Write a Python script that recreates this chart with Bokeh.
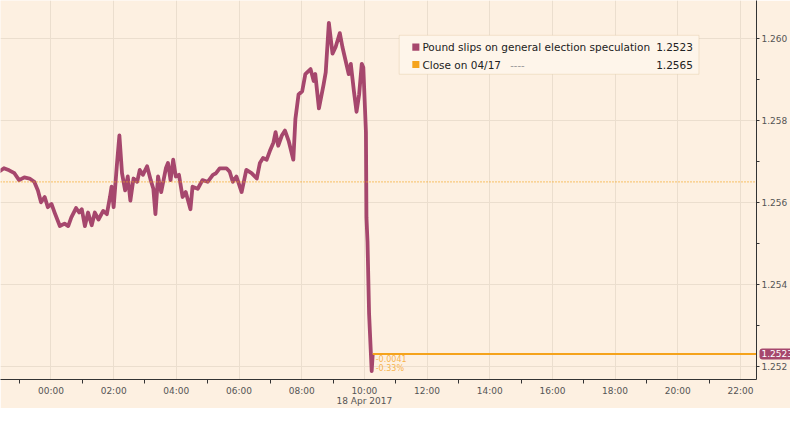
import pandas as pd
from bokeh.plotting import figure
from bokeh.models import (ColumnDataSource, Range1d, FixedTicker, PrintfTickFormatter,
                          Span, BoxAnnotation, Label)
from bokeh.core.properties import value
from bokeh.embed import file_html
from bokeh.resources import INLINE

# ---------------- data ----------------
times = [
    "2017-04-17 22:08", "2017-04-17 22:21", "2017-04-17 22:30", "2017-04-17 22:40",
    "2017-04-17 22:50", "2017-04-17 22:59", "2017-04-17 23:09", "2017-04-17 23:19",
    "2017-04-17 23:28", "2017-04-17 23:35", "2017-04-17 23:41", "2017-04-17 23:48",
    "2017-04-17 23:54", "2017-04-18 00:01", "2017-04-18 00:07", "2017-04-18 00:17",
    "2017-04-18 00:26", "2017-04-18 00:33", "2017-04-18 00:39", "2017-04-18 00:48",
    "2017-04-18 00:54", "2017-04-18 00:59", "2017-04-18 01:05", "2017-04-18 01:11",
    "2017-04-18 01:18", "2017-04-18 01:24", "2017-04-18 01:31", "2017-04-18 01:40",
    "2017-04-18 01:47", "2017-04-18 01:53", "2017-04-18 01:56", "2017-04-18 02:00",
    "2017-04-18 02:06", "2017-04-18 02:11", "2017-04-18 02:16", "2017-04-18 02:22",
    "2017-04-18 02:27", "2017-04-18 02:32", "2017-04-18 02:38", "2017-04-18 02:45",
    "2017-04-18 02:50", "2017-04-18 02:56", "2017-04-18 03:04", "2017-04-18 03:11",
    "2017-04-18 03:16", "2017-04-18 03:20", "2017-04-18 03:25", "2017-04-18 03:31",
    "2017-04-18 03:40", "2017-04-18 03:44", "2017-04-18 03:49", "2017-04-18 03:54",
    "2017-04-18 03:59", "2017-04-18 04:05", "2017-04-18 04:12", "2017-04-18 04:18",
    "2017-04-18 04:27", "2017-04-18 04:31", "2017-04-18 04:41", "2017-04-18 04:50",
    "2017-04-18 05:00", "2017-04-18 05:10", "2017-04-18 05:16", "2017-04-18 05:23",
    "2017-04-18 05:36", "2017-04-18 05:42", "2017-04-18 05:48", "2017-04-18 05:55",
    "2017-04-18 06:05", "2017-04-18 06:14", "2017-04-18 06:24", "2017-04-18 06:34",
    "2017-04-18 06:40", "2017-04-18 06:46", "2017-04-18 06:53", "2017-04-18 06:59",
    "2017-04-18 07:06", "2017-04-18 07:10", "2017-04-18 07:15", "2017-04-18 07:22",
    "2017-04-18 07:28", "2017-04-18 07:35", "2017-04-18 07:44", "2017-04-18 07:48",
    "2017-04-18 07:54", "2017-04-18 08:01", "2017-04-18 08:07", "2017-04-18 08:17",
    "2017-04-18 08:23", "2017-04-18 08:26", "2017-04-18 08:33", "2017-04-18 08:42",
    "2017-04-18 08:46", "2017-04-18 08:52", "2017-04-18 08:59", "2017-04-18 09:05",
    "2017-04-18 09:13", "2017-04-18 09:18", "2017-04-18 09:24", "2017-04-18 09:30",
    "2017-04-18 09:34", "2017-04-18 09:40", "2017-04-18 09:45", "2017-04-18 09:50",
    "2017-04-18 09:55", "2017-04-18 09:58", "2017-04-18 10:03", "2017-04-18 10:04",
    "2017-04-18 10:06", "2017-04-18 10:09", "2017-04-18 10:14", "2017-04-18 10:16",
]
prices = [
    1.25679, 1.25675, 1.25683, 1.25678,
    1.25671, 1.25654, 1.25661, 1.25658,
    1.25650, 1.25629, 1.25600, 1.25613,
    1.25588, 1.25596, 1.25575, 1.25542,
    1.25548, 1.25542, 1.25563, 1.25586,
    1.25575, 1.25583, 1.25542, 1.25575,
    1.25544, 1.25575, 1.25558, 1.25579,
    1.25571, 1.25613, 1.25638, 1.25588,
    1.25688, 1.25763, 1.25671, 1.25629,
    1.25663, 1.25604, 1.25658, 1.25650,
    1.25679, 1.25667, 1.25688, 1.25654,
    1.25633, 1.25571, 1.25663, 1.25625,
    1.25683, 1.25696, 1.25654, 1.25704,
    1.25663, 1.25667, 1.25613, 1.25625,
    1.25583, 1.25638, 1.25633, 1.25654,
    1.25650, 1.25667, 1.25671, 1.25683,
    1.25683, 1.25675, 1.25650, 1.25663,
    1.25625, 1.25679, 1.25671, 1.25658,
    1.25696, 1.25708, 1.25704, 1.25725,
    1.25746, 1.25771, 1.25738, 1.25763,
    1.25775, 1.25750, 1.25704, 1.25804,
    1.25863, 1.25871, 1.25913, 1.25925,
    1.25896, 1.25913, 1.25829, 1.25888,
    1.25917, 1.26038, 1.25963, 1.25979,
    1.26013, 1.25979, 1.25946, 1.25913,
    1.25938, 1.25871, 1.25821, 1.25863,
    1.25938, 1.25929, 1.25771, 1.25563,
    1.25504, 1.25329, 1.25188, 1.25230,
]
close_prev = 1.2565
last_text = "1.2523"
close_text = "1.2565"
change_abs = "-0.0041"
change_pct = "-0.33%"
series_name = "Pound slips on general election speculation"
close_name = "Close on 04/17"
date_label = "18 Apr 2017"
chart_day = "2017-04-18"
x_tick_labels = ["00:00", "02:00", "04:00", "06:00", "08:00", "10:00",
                 "12:00", "14:00", "16:00", "18:00", "20:00", "22:00"]
y_ticks = [1.252, 1.254, 1.256, 1.258, 1.260]
y_minor = [1.251, 1.253, 1.255, 1.257, 1.259, 1.261]

# ---------------- styling ----------------
BG = "#FDF0E1"
LINE = "#A6476D"
ORANGE = "#F5A31C"
GRID = "#EBDECE"
TEXT = "#555555"
FONT = "DejaVu Sans"

BASE = pd.Timestamp(chart_day)
PX0, PXH = 58.0, 31.05          # page px of 00:00 and px per hour
PY0, PYV = 45.0, 40000.0        # page px of 1.260 and px per unit
FRAME_L, FRAME_R, FRAME_T, FRAME_B = 8, 757, 8, 378


def ms(ts):
    return ts.timestamp() * 1000.0


def xpx(px):
    return ms(BASE + pd.Timedelta(hours=(px - PX0) / PXH))


def ypx(py):
    return y_ticks[-1] - (py - PY0) / PYV


t = pd.to_datetime(times)
src = ColumnDataSource(dict(t=t, v=prices))

x_range = Range1d(xpx(FRAME_L), xpx(FRAME_R))
y_range = Range1d(ypx(FRAME_B), ypx(FRAME_T))

p = figure(width=790, height=408, x_axis_type="datetime", y_axis_location="right",
           x_range=x_range, y_range=y_range, output_backend="svg",
           toolbar_location=None, min_border_left=0, min_border_top=0,
           min_border_right=0, min_border_bottom=0,
           background_fill_color=BG, border_fill_color=BG)
p.outline_line_color = None

# x axis
major_x = [ms(BASE + pd.Timedelta(hours=2 * i)) for i in range(len(x_tick_labels))]
minor_x = [ms(BASE + pd.Timedelta(hours=2 * i - 1)) for i in range(len(x_tick_labels) + 1)]
p.xaxis.ticker = FixedTicker(ticks=major_x, minor_ticks=minor_x)
overrides = {}
for tk, lab in zip(major_x, x_tick_labels):
    overrides[tk] = lab
overrides[major_x[5]] = x_tick_labels[5] + "\n" + date_label
p.xaxis.major_label_overrides = overrides
p.xaxis.axis_line_color = "#333333"
p.xaxis.major_tick_out = 0
p.xaxis.major_tick_in = 0
p.xaxis.minor_tick_out = 4
p.xaxis.minor_tick_in = 0
p.xaxis.minor_tick_line_color = "#333333"
p.xaxis.major_label_text_font = FONT
p.xaxis.major_label_text_font_size = "9px"
p.xaxis.major_label_text_color = TEXT
p.xaxis.major_label_text_line_height = 1.0
p.xaxis.major_label_standoff = 2

# y axis
p.yaxis.ticker = FixedTicker(ticks=y_ticks, minor_ticks=y_minor)
p.yaxis.formatter = PrintfTickFormatter(format="%.3f")
p.yaxis.axis_line_color = "#333333"
p.yaxis.major_tick_out = 3
p.yaxis.major_tick_in = 0
p.yaxis.minor_tick_out = 3
p.yaxis.minor_tick_in = 0
p.yaxis.major_tick_line_color = "#333333"
p.yaxis.minor_tick_line_color = "#333333"
p.yaxis.major_label_text_font = FONT
p.yaxis.major_label_text_font_size = "9px"
p.yaxis.major_label_text_color = TEXT
p.yaxis.major_label_standoff = 2

p.xgrid.grid_line_color = GRID
p.ygrid.grid_line_color = GRID

# close line
p.add_layout(Span(location=close_prev, dimension="width", line_color=ORANGE,
                  line_width=1.3, line_dash="1 2"))

# price line
p.line("t", "v", source=src, line_color=LINE, line_width=3.8, line_join="round")

# last value line
t_last = ms(t[-1])
v_last = prices[-1]
p.segment(x0=[t_last], y0=[v_last], x1=[x_range.end], y1=[v_last],
          line_color=ORANGE, line_width=2)

p.add_layout(Label(x=t_last, y=v_last, text=change_abs, x_offset=3, y_offset=-5,
                   text_color=ORANGE, text_font=FONT, text_font_size="8px",
                   text_baseline="middle", text_alpha=0.8))
p.add_layout(Label(x=t_last, y=v_last, text=change_pct, x_offset=3, y_offset=-15,
                   text_color=ORANGE, text_font=FONT, text_font_size="8px",
                   text_baseline="middle", text_alpha=0.8))

# value badge on the axis (overlay level, outside the frame)
p.text(x=[x_range.end], y=[v_last], text=[last_text], x_offset=3,
       text_color="white", text_font=value(FONT), text_font_size="9px",
       text_baseline="middle", background_fill_color=LINE,
       padding=2, border_radius=3, level="overlay")

# legend box
p.add_layout(BoxAnnotation(left=xpx(403), right=xpx(700), top=ypx(42), bottom=ypx(80),
                           fill_color="#FEF5EA", fill_alpha=1.0,
                           line_color="#D6B88C", line_width=1))
p.add_layout(BoxAnnotation(left=xpx(416), right=xpx(423), top=ypx(50), bottom=ypx(57),
                           fill_color=LINE, fill_alpha=1.0, line_color=None))
p.add_layout(BoxAnnotation(left=xpx(416), right=xpx(423), top=ypx(67), bottom=ypx(74),
                           fill_color=ORANGE, fill_alpha=1.0, line_color=None))
for txt, py in [(series_name, 53.5), (close_name, 70.5)]:
    p.add_layout(Label(x=xpx(426), y=ypx(py), text=txt, text_font=FONT,
                       text_font_size="10.5px", text_color="#222222",
                       text_baseline="middle"))
p.add_layout(Label(x=xpx(513), y=ypx(70.5), text="----", text_font=FONT,
                   text_font_size="10px", text_color="#9A9A9A",
                   text_baseline="middle"))
for txt, py in [(last_text, 53.5), (close_text, 70.5)]:
    p.add_layout(Label(x=xpx(694), y=ypx(py), text=txt, text_font=FONT,
                       text_font_size="10.5px", text_color="#222222",
                       text_baseline="middle", text_align="right"))

open("out.html", "w").write(file_html(p, INLINE))
